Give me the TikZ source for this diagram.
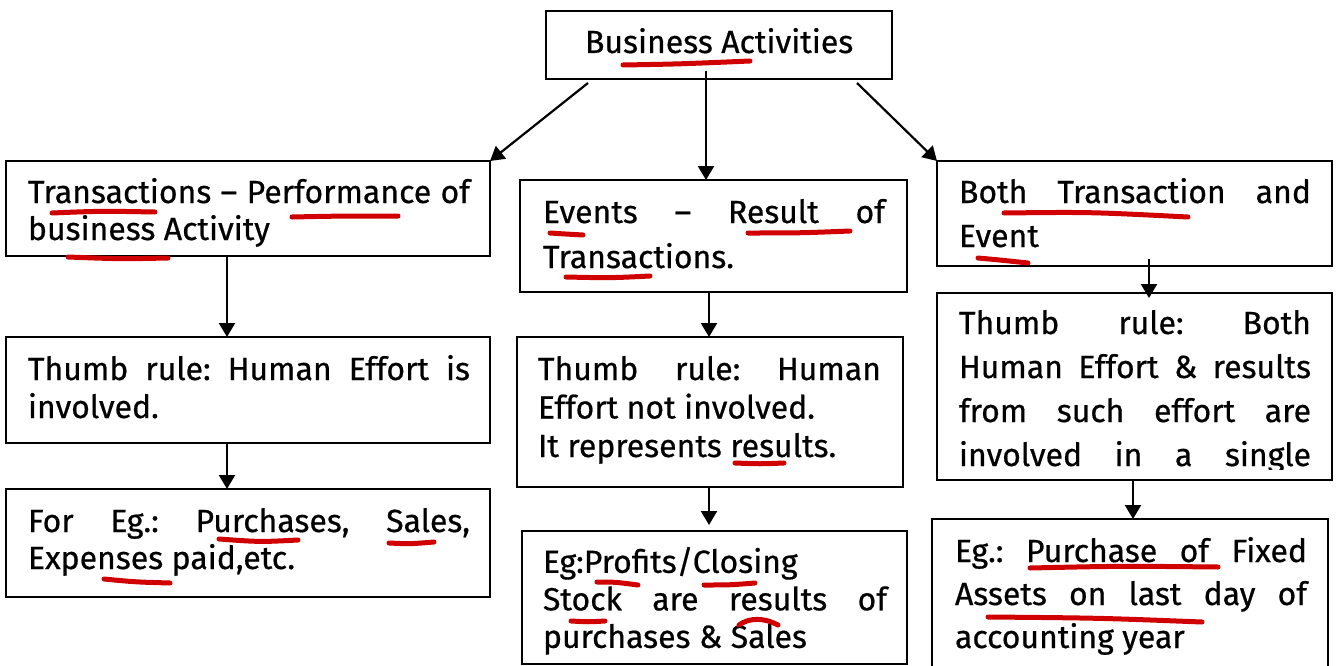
\documentclass[tikz,border=0pt]{standalone}
\usepackage{fontspec}
\setmainfont{Fira Sans}[FakeBold=0.6]
\usetikzlibrary{arrows.meta}
\definecolor{inkred}{RGB}{208,0,0}
\newcommand\jl[2]{\makebox[#1pt][s]{#2}}
\newcommand\fs{\rule{0pt}{25pt}}
\frenchspacing
\begin{document}
\begin{tikzpicture}[x=1pt,y=-1pt,
  box/.style={draw=black, line width=2.2pt, anchor=north west, inner sep=0pt, outer sep=0pt},
  txt/.style={inner sep=0pt, outer sep=0pt, anchor=north west, align=left, font=\fontsize{32}{#1}\selectfont},
  txt/.default=38,
  arr/.style={line width=2.2pt, -{Triangle[length=14pt,width=16pt]}},
  redink/.style={draw=inkred, line width=5pt, line cap=round}]
\useasboundingbox (0,0) rectangle (1338,666);
\clip (0,0) rectangle (1338,666);
\fill[white] (0,0) rectangle (1338,666);
% boxes
\node[box, minimum width=346, minimum height=68] (top) at (546,11) {};
\node[box, minimum width=484, minimum height=95] (L1) at (6,161) {};
\node[box, minimum width=484, minimum height=106] (L2) at (6,337) {};
\node[box, minimum width=484, minimum height=108] (L3) at (6,489) {};
\node[box, minimum width=387, minimum height=112] (M1) at (520,180) {};
\node[box, minimum width=386, minimum height=150] (M2) at (517,337) {};
\node[box, minimum width=385, minimum height=133] (M3) at (522,531) {};
\node[box, minimum width=395, minimum height=105] (R1) at (937,161) {};
\node[box, minimum width=395, minimum height=187] (R2) at (937,293) {};
\node[box, minimum width=396, minimum height=180] (R3) at (932,519) {};
% texts
\node[txt] (tTop) at (585,53-25) {\fs Business Activities};
\node[txt=37] (tL1) at (28,203-25) {\fs\jl{442}{Transactions – Performance of}\\business Activity};
\node[txt=38] (tL2) at (28,380-25) {\fs\jl{442}{Thumb rule: Human Effort is}\\involved.};
\node[txt=37] (tL3) at (28,532-25) {\fs\jl{442}{For Eg.: Purchases, Sales,}\\Expenses paid,etc.};
\node[txt=45] (tM1) at (543,223-25) {\fs\jl{342}{Events – Result of}\\Transactions.};
\node[txt=38.5] (tM2) at (538,380-25) {\fs\jl{343}{Thumb rule: Human}\\Effort not involved.\\It represents results.};
\node[txt=37.5] (tM3) at (543,572-25) {\fs Eg:Profits/Closing\\\jl{344}{Stock are results of}\\purchases \& Sales};
\node[txt=44] (tR1) at (959,203-25) {\fs\jl{352}{Both Transaction and}\\Event};
\begin{scope}
\clip (937,293) rectangle (1332,469);
\node[txt=44] (tR2) at (959,334-25) {\fs\jl{352}{Thumb rule: Both}\\\jl{352}{Human Effort \& results}\\\jl{352}{from such effort are}\\\jl{352}{involved in a single}};
\end{scope}
\node[txt=43] (tR3) at (955,562-25) {\fs\jl{352}{Eg.: Purchase of Fixed}\\\jl{352}{Assets on last day of}\\accounting year};
% connector ends
\coordinate (sA) at (588,83);
\coordinate (sB) at (706,71);
\coordinate (sC) at (857,83);
\coordinate (xL) at (227,0);
\coordinate (xM) at (709,0);
\coordinate (sR1) at (1149,259);
\coordinate (xR2) at (1133,0);
% connectors
\draw[arr] (sA) -- (L1.north east);
\draw[arr] (sB) -- (sB |- M1.north);
\draw[arr] (sC) -- (R1.north west);
\draw[arr] (L1.south -| xL) -- (L2.north -| xL);
\draw[arr] (L2.south -| xL) -- (L3.north -| xL);
\draw[arr] (M1.south -| xM) -- (M2.north -| xM);
\draw[arr, shorten >=6pt] (M2.south -| xM) -- (M3.north -| xM);
\draw[arr, shorten >=-5pt] (sR1) -- (sR1 |- R2.north);
\draw[arr] (R2.south -| xR2) -- (R3.north -| xR2);
% red pen marks
\draw[redink] (623,65) .. controls (680,64) .. (750,61);
\draw[redink] (52,213) .. controls (100,211) .. (155,212);
\draw[redink] (292,217) .. controls (340,216) .. (398,216);
\draw[redink] (68,257) .. controls (120,259) .. (168,258);
\draw[redink] (219,539) .. controls (260,542) .. (298,540);
\draw[redink] (389,543) .. controls (410,544) .. (434,542);
\draw[redink] (104,579) .. controls (135,582) .. (170,583);
\draw[redink] (550,233) .. controls (565,234) .. (583,235);
\draw[redink] (748,233) .. controls (800,233) .. (850,231);
\draw[redink] (566,277) .. controls (610,278) .. (650,276);
\draw[redink] (735,463) .. controls (760,464) .. (784,463);
\draw[redink] (597,582) .. controls (615,582) .. (638,585);
\draw[redink] (704,585) .. controls (730,585) .. (755,583);
\draw[redink] (571,621) .. controls (588,622) .. (605,621);
\draw[redink] (739,625) .. controls (750,617) and (765,618) .. (778,625);
\draw[redink] (1004,213) .. controls (1090,212) .. (1188,217);
\draw[redink] (978,258) .. controls (1000,260) .. (1028,263);
\draw[redink] (1030,568) .. controls (1120,566) .. (1218,567);
\draw[redink] (988,617) .. controls (1100,618) .. (1202,622);
\end{tikzpicture}
\end{document}
